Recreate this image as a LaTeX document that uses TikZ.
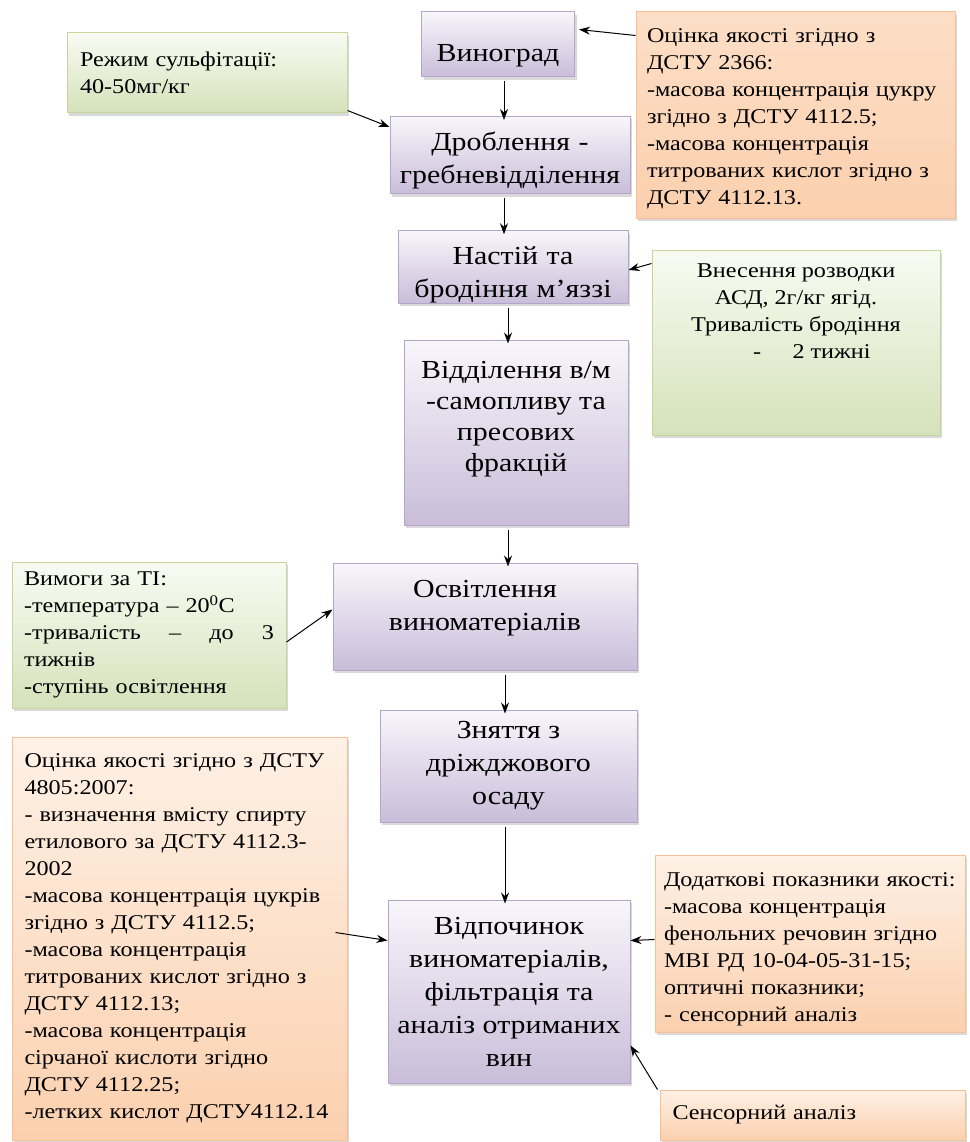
\documentclass[tikz,border=0pt]{standalone}
\usepackage{fontspec}
\setmainfont[FakeStretch=1.15]{Liberation Serif}
\usepackage{tikz}
\usetikzlibrary{arrows.meta}
\usetikzlibrary{shadows}

\definecolor{stagetop}{HTML}{F8F6FB}
\definecolor{stagebot}{HTML}{C9BDD9}
\definecolor{stageline}{HTML}{B4A5C9}
\definecolor{greentop}{HTML}{F9FBF3}
\definecolor{greenbot}{HTML}{D5E2BA}
\definecolor{greenline}{HTML}{C4D79E}
\definecolor{orangetop}{HTML}{FEF1E6}
\definecolor{orangebot}{HTML}{FBD0AE}
\definecolor{orangeline}{HTML}{F8BE96}

\tikzset{
  stage/.style={draw=stageline, line width=1pt, top color=stagetop, bottom color=stagebot,
    drop shadow={shadow xshift=2pt, shadow yshift=-3pt, opacity=.3},
    align=center, inner sep=0pt, font=\fontsize{26}{33}\selectfont},
  note/.style={line width=1pt, drop shadow={shadow xshift=2pt, shadow yshift=-3pt, opacity=.3},
    align=left, inner sep=0pt, font=\fontsize{21}{27}\selectfont},
  greennote/.style={note, draw=greenline, top color=greentop, bottom color=greenbot},
  orangenote/.style={note, draw=orangeline, top color=orangetop, bottom color=orangebot},
  arr/.style={-{Stealth[length=11pt,width=8pt]}, line width=1pt}
}

\begin{document}
\begin{tikzpicture}[x=1pt, y=-1pt]
  \useasboundingbox (0,0) rectangle (969,1142);

  % technological stages
  \node[stage, minimum width=153pt, minimum height=65pt, text width=145pt, text height=40pt] (vino) at (498,44.5) {Виноград};
  \node[stage, minimum width=240pt, minimum height=77pt, text width=235pt, text height=30pt] (drob) at (510,155)
    {Дроблення -\\гребневідділення};
  \node[stage, minimum width=230pt, minimum height=69pt, text width=225pt, text height=34pt] (nastii) at (513,267)
    {Настій та\\бродіння м’яззі};
  \node[stage, minimum width=224pt, minimum height=185pt, font=\fontsize{26}{31}\selectfont] (viddil) at (516,432.5)
    {\parbox[c][142pt][t]{215pt}{\centering Відділення в/м\\-самопливу та\\пресових\\фракцій}};
  \node[stage, minimum width=304pt, minimum height=107pt] (osvit) at (485,616.5)
    {\parbox[c][73pt][t]{290pt}{\centering Освітлення\\виноматеріалів}};
  \node[stage, minimum width=257pt, minimum height=112pt] (znyat) at (508.5,766)
    {Зняття з\\дріжджового\\осаду};
  \node[stage, minimum width=242pt, minimum height=183pt] (vidpoch) at (509,991.5)
    {Відпочинок\\виноматеріалів,\\фільтрація та\\аналіз отриманих\\вин};

  % requirements and control
  \node[greennote, minimum width=280pt, minimum height=80pt, text width=254pt] (sulf) at (207,73)
    {Режим сульфітації:\\40-50мг/кг};
  \node[orangenote, top color=orangebot!70, minimum width=319pt, minimum height=206pt, text width=297pt, text height=21pt] (ocinka1) at (795.5,115)
    {Оцінка якості згідно з\\ДСТУ 2366:\\-масова концентрація цукру\\згідно з ДСТУ 4112.5;\\-масова концентрація\\титрованих кислот згідно з\\ДСТУ 4112.13.};
  \node[greennote, minimum width=288pt, minimum height=185pt, align=center] (vnes) at (796,342.5)
    {\parbox[c][157pt][t]{270pt}{\centering Внесення розводки\\АСД, 2г/кг ягід.\\Тривалість бродіння\\\hspace*{1.5em}-\hspace{1.5em}2 тижні}};
  \node[greennote, minimum width=274pt, minimum height=146pt, text width=250pt] (vymohy) at (149,635)
    {Вимоги за ТІ:\\-температура – 20\textsuperscript{0}С\\-тривалість\hfill–\hfill до\hfill 3\\тижнів\\-ступінь освітлення};
  \node[orangenote, minimum width=335pt, minimum height=403pt, text width=310pt] (ocinka2) at (179.5,938.5)
    {Оцінка якості згідно з ДСТУ\\4805:2007:\\- визначення вмісту спирту\\етилового за ДСТУ 4112.3-\\2002\\-масова концентрація цукрів\\згідно з ДСТУ 4112.5;\\-масова концентрація\\титрованих кислот згідно з\\ДСТУ 4112.13;\\-масова концентрація\\сірчаної кислоти згідно\\ДСТУ 4112.25;\\-летких кислот ДСТУ4112.14};
  \node[orangenote, minimum width=310pt, minimum height=177pt, text width=292pt, text height=25pt] (dodat) at (810,943.5)
    {Додаткові показники якості:\\-масова концентрація\\фенольних речовин згідно\\МВІ РД 10-04-05-31-15;\\оптичні показники;\\- сенсорний аналіз};
  \node[orangenote, minimum width=305pt, minimum height=50pt, text width=280pt] (sensor) at (812.5,1115)
    {Сенсорний аналіз};

  % main flow
  \foreach \a/\b/\s in {vino/drob/6, drob/nastii/-6, nastii/viddil/-5,
                        viddil/osvit/-8, osvit/znyat/20, znyat/vidpoch/-3.5} {
    \draw[arr] ([xshift=\s pt, yshift=-4pt]\a.south) -- ([xshift=\s pt, yshift=-4pt]\a.south |- \b.north);
  }

  % side inputs
  \draw[arr] ([yshift=-24pt]ocinka1.north west) -- ([xshift=4pt, yshift=15pt]vino.east);
  \draw[arr] ([yshift=3pt]sulf.south east) -- ([yshift=-11pt]drob.north west);
  \draw[arr] ([yshift=-14pt]vnes.north west) -- ([yshift=-3pt]nastii.east);
  \draw[arr] ([yshift=-7pt]vymohy.east) -- ([yshift=7pt]osvit.west);
  \draw[arr] ([xshift=-12pt, yshift=6pt]ocinka2.east) -- ([yshift=51pt]vidpoch.west);
  \draw[arr] ([yshift=4pt]dodat.west) -- ([yshift=51pt]vidpoch.east);
  \draw[arr] ([xshift=-2pt]sensor.north west) -- ([yshift=-54pt]vidpoch.east);
\end{tikzpicture}
\end{document}
